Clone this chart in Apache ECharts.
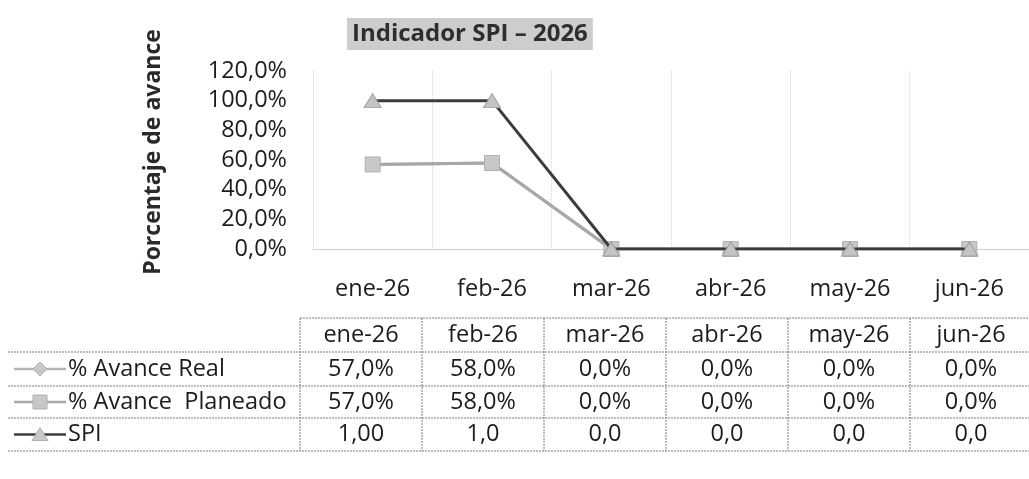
<!DOCTYPE html>
<html>
<head>
    <meta charset="utf-8">
    <title>Indicador SPI</title>
    <script src="https://cdn.jsdelivr.net/npm/echarts@6/dist/echarts.min.js"></script>
    <style>
        html, body { margin: 0; padding: 0; background: #fff; }
        #main { width: 1029px; height: 479px; }
    </style>
</head>
<body>
    <div id="main"></div>
    <script>
        // datos
        var categories = ['ene-26', 'feb-26', 'mar-26', 'abr-26', 'may-26', 'jun-26'];
        var avanceReal = [57, 58, 0, 0, 0, 0];
        var avancePlaneado = [57, 58, 0, 0, 0, 0];
        var spi = [1.00, 1.0, 0, 0, 0, 0];
        var spiLabels = ['1,00', '1,0', '0,0', '0,0', '0,0', '0,0'];
        var seriesNames = ['% Avance Real', '% Avance  Planeado', 'SPI'];

        var FONT = '"Open Sans", "Noto Sans", sans-serif';
        var FS = 23.5;

        function pct(v) {
            return v.toFixed(1).replace('.', ',') + '%';
        }

        // tabla de datos debajo del grafico
        function buildTable() {
            var els = [];
            var x0 = 300, colW = 122;
            var rows = [318, 352, 386, 418, 451];
            var right = x0 + colW * categories.length;
            var dash = { stroke: '#7a7a7a', lineWidth: 1, lineDash: [2, 1] };
            // horizontales
            els.push({ type: 'line', shape: { x1: x0, y1: rows[0], x2: right, y2: rows[0] }, style: dash });
            for (var r = 1; r < rows.length; r++) {
                els.push({ type: 'line', shape: { x1: 8, y1: rows[r], x2: right, y2: rows[r] }, style: dash });
            }
            // verticales
            for (var c = 0; c <= categories.length; c++) {
                var x = x0 + c * colW;
                els.push({ type: 'line', shape: { x1: x, y1: rows[0], x2: x, y2: rows[4] }, style: dash });
            }
            var rowData = [
                categories,
                avanceReal.map(pct),
                avancePlaneado.map(pct),
                spiLabels
            ];
            rowData.forEach(function (vals, r) {
                vals.forEach(function (t, c) {
                    els.push({
                        type: 'text',
                        x: x0 + c * colW + colW / 2,
                        y: (rows[r] + rows[r + 1]) / 2,
                        style: { text: t, fill: '#1c1c1c', font: FS + 'px ' + FONT, align: 'center', verticalAlign: 'middle' }
                    });
                });
            });
            // claves de leyenda
            var keyColors = ['#b4b4b4', '#a8a8a8', '#3c3c3c'];
            for (var k = 0; k < 3; k++) {
                var cy = (rows[k + 1] + rows[k + 2]) / 2;
                els.push({ type: 'line', shape: { x1: 14, y1: cy, x2: 66, y2: cy }, style: { stroke: keyColors[k], lineWidth: 2.5 } });
                var mk;
                if (k === 0) {
                    mk = { type: 'polygon', shape: { points: [[40, cy - 7], [47, cy], [40, cy + 7], [33, cy]] } };
                } else if (k === 1) {
                    mk = { type: 'rect', shape: { x: 33, y: cy - 7, width: 14, height: 14 } };
                } else {
                    mk = { type: 'polygon', shape: { points: [[40, cy - 7], [48, cy + 6], [32, cy + 6]] } };
                }
                mk.style = { fill: '#c8c8c8', stroke: '#b0b0b0', lineWidth: 1 };
                els.push(mk);
                els.push({
                    type: 'text', x: 68, y: cy,
                    style: { text: seriesNames[k], fill: '#1c1c1c', font: FS + 'px ' + FONT, verticalAlign: 'middle' }
                });
            }
            // titulo del eje vertical
            els.push({
                type: 'text', x: 153, y: 152, rotation: Math.PI / 2,
                style: {
                    text: 'Porcentaje de avance', fill: '#2a2a2a',
                    font: 'bold 23px ' + FONT, align: 'center', verticalAlign: 'middle'
                }
            });
            return els;
        }

        var myChart = echarts.init(document.getElementById('main'));
        var option = {
            backgroundColor: '#fff',
            animation: false,
            title: {
                text: 'Indicador SPI \u2013 2026',
                left: 347,
                top: 18,
                padding: [3, 5, 3, 5],
                backgroundColor: '#cdcdcd',
                textStyle: { fontFamily: FONT, fontSize: 24, fontWeight: 'bold', color: '#2e2e2e', lineHeight: 26 }
            },
            grid: { left: 313, right: -12, top: 71, bottom: 230, containLabel: false },
            xAxis: {
                type: 'category',
                data: categories,
                boundaryGap: true,
                axisLine: { lineStyle: { color: '#d0d0d0' } },
                axisTick: { show: false },
                axisLabel: { fontFamily: FONT, fontSize: FS, color: '#1c1c1c', margin: 28, interval: 0 },
                splitLine: { show: true, lineStyle: { color: '#d8d8d8', type: 'dotted' } }
            },
            yAxis: {
                type: 'value',
                min: 0,
                max: 120,
                interval: 20,
                axisLine: { show: false },
                axisTick: { show: false },
                splitLine: { show: false },
                axisLabel: {
                    fontFamily: FONT, fontSize: FS, color: '#1c1c1c', margin: 26,
                    formatter: function (v) { return pct(v); }
                }
            },
            series: [
                {
                    name: seriesNames[0],
                    type: 'line',
                    data: avanceReal,
                    symbol: 'diamond',
                    symbolSize: 14,
                    lineStyle: { color: '#b4b4b4', width: 3 },
                    itemStyle: { color: '#c8c8c8', borderColor: '#b0b0b0', borderWidth: 1 },
                    z: 2
                },
                {
                    name: seriesNames[1],
                    type: 'line',
                    data: avancePlaneado,
                    symbol: 'rect',
                    symbolSize: 15,
                    lineStyle: { color: '#a8a8a8', width: 3 },
                    itemStyle: { color: '#c8c8c8', borderColor: '#b0b0b0', borderWidth: 1 },
                    z: 3
                },
                {
                    name: seriesNames[2],
                    type: 'line',
                    data: spi.map(function (v) { return v * 100; }),
                    symbol: 'triangle',
                    symbolSize: [17, 14],
                    lineStyle: { color: '#3c3c3c', width: 3 },
                    itemStyle: { color: '#c4c4c4', borderColor: '#a0a0a0', borderWidth: 1 },
                    z: 4
                }
            ],
            graphic: buildTable()
        };
        myChart.setOption(option);
    </script>
</body>
</html>
